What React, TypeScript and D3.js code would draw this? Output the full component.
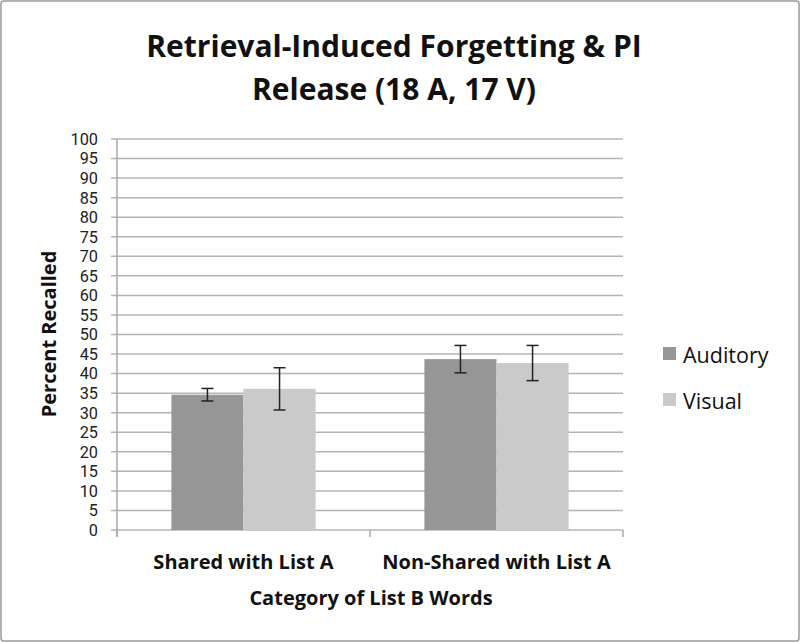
import React from "react";
import * as d3 from "d3";

const categories = ["Shared with List A", "Non-Shared with List A"];
const series = ["Auditory", "Visual"];
const auditoryValues = [34.6, 43.7];
const visualValues = [36.1, 42.7];
const auditoryErr = [1.6, 3.5];
const visualErr = [5.4, 4.5];
const colors = ["#969696", "#cacaca"];
const yTicks = d3.range(0, 101, 5);
const titleLines = ["Retrieval-Induced Forgetting & PI", "Release (18 A, 17 V)"];

export default function App() {
  const W = 800, H = 642;
  const x0 = 117, x1 = 623, yBottom = 530, yTop = 139;
  const y = d3.scaleLinear().domain([0, 100]).range([yBottom, yTop]);
  const xb = d3.scaleBand<string>().domain(categories).range([x0, x1]).paddingInner(0.43).paddingOuter(0.215);
  const xs = d3.scaleBand<string>().domain(series).range([0, xb.bandwidth()]);
  const values = [auditoryValues, visualValues];
  const errs = [auditoryErr, visualErr];
  const font = "'Open Sans', sans-serif";
  const step = (x1 - x0) / categories.length;
  return (
    <svg width={W} height={H} style={{ position: "absolute", left: 0, top: 0 }} fontFamily={font}>
      <rect x={0} y={0} width={W} height={H} fill="#fff" />
      <rect x={1} y={1} width={W - 2} height={H - 2} fill="none" stroke="#9a9a9a" strokeWidth={1.5} rx={3} />
      {titleLines.map((t, i) => (
        <text key={i} x={394} y={57 + i * 43} textAnchor="middle" fontSize={30} fontWeight={700} fill="#111">{t}</text>
      ))}
      {yTicks.map((t) => (
        <g key={t}>
          <line x1={x0 - 6} x2={x1} y1={y(t)} y2={y(t)} stroke="#b4b4b4" strokeWidth={1.5} />
          <text x={98} y={y(t)} dy="0.36em" textAnchor="end" fontSize={16.3} fontFamily="Roboto, sans-serif" fill="#222">{t}</text>
        </g>
      ))}
      <line x1={x0} x2={x0} y1={yTop} y2={yBottom + 7} stroke="#a8a8a8" strokeWidth={1.5} />
      {d3.range(categories.length + 1).map((i) => (
        <line key={i} x1={x0 + i * step} x2={x0 + i * step} y1={yBottom} y2={yBottom + 7} stroke="#a8a8a8" strokeWidth={1.5} />
      ))}
      {categories.map((c, ci) => (
        <g key={c}>
          {series.map((s, si) => {
            const bx = (xb(c) as number) + (xs(s) as number);
            const bw = xs.bandwidth();
            const v = values[si][ci];
            const e = errs[si][ci];
            const cx = bx + bw / 2;
            return (
              <g key={s}>
                <rect x={bx} y={y(v)} width={bw} height={yBottom - y(v)} fill={colors[si]} />
                <line x1={cx} x2={cx} y1={y(v + e)} y2={y(v - e)} stroke="#222" strokeWidth={1.5} />
                <line x1={cx - 6} x2={cx + 6} y1={y(v + e)} y2={y(v + e)} stroke="#222" strokeWidth={1.5} />
                <line x1={cx - 6} x2={cx + 6} y1={y(v - e)} y2={y(v - e)} stroke="#222" strokeWidth={1.5} />
              </g>
            );
          })}
          <text x={(xb(c) as number) + xb.bandwidth() / 2} y={569} textAnchor="middle" fontSize={20} fontWeight={700} fill="#111">{c}</text>
        </g>
      ))}
      <text x={371} y={605} textAnchor="middle" fontSize={20} fontWeight={700} fill="#111">Category of List B Words</text>
      <text transform="translate(56,334) rotate(-90)" textAnchor="middle" fontSize={20} fontWeight={700} fill="#111">Percent Recalled</text>
      {series.map((s, i) => (
        <g key={s}>
          <rect x={663} y={347 + i * 46} width={13} height={13} fill={colors[i]} />
          <text x={683} y={363 + i * 46} fontSize={21.5} fill="#111">{s}</text>
        </g>
      ))}
    </svg>
  );
}
